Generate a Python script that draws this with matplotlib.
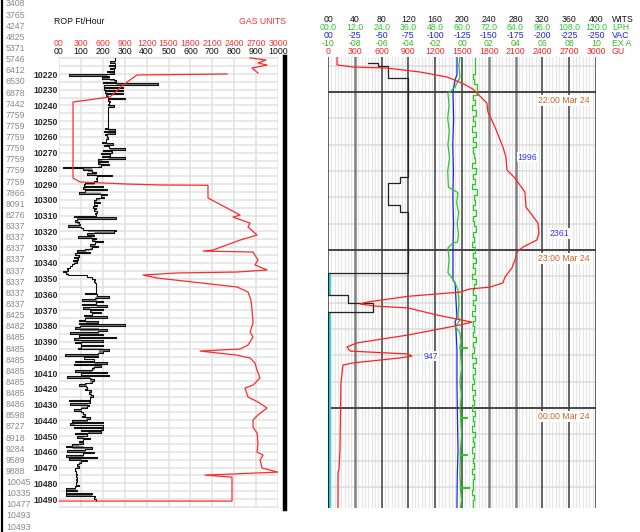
#!/usr/bin/env python3
"""Mud log strip: ROP / gas vs depth (left), time-based WITS / gas tracks (right)."""

import numpy as np
import matplotlib

matplotlib.use("Agg")
import matplotlib.pyplot as plt
from matplotlib.lines import Line2D
from matplotlib.transforms import blended_transform_factory

plt.rcParams["font.family"] = ["Liberation Sans", "DejaVu Sans"]

W, H = 640, 532

# ---------------- left column numbers ----------------
side_counts = [3408, 3765, 4247, 4825, 5371, 5746, 6412, 6530, 6878, 7442,
               7759, 7759, 7759, 7759, 7759, 7759, 7759, 7866, 8091, 8276,
               8337, 8337, 8337, 8337, 8337, 8337, 8337, 8337, 8425, 8482,
               8485, 8485, 8485, 8485, 8485, 8485, 8486, 8598, 8727, 8918,
               9284, 9589, 9888, 10045, 10335, 10477, 10493, 10493]

depth_labels = list(range(10220, 10491, 10))

# ---------------- depth track ----------------
rop_top = 10210  # one value per foot from here
rop_ft_hr = [
    255, 255, 235, 255, 230, 255, 235, 250, 220, 250,   # 10210
    46, 230, 195, 250, 260, 200, 450, 205, 290, 205,    # 10220
    290, 210, 290, 215, 225, 300, 225, 235, 230, 225,   # 10230
    250, 224, 226, 224, 222, 224, 225, 224, 223, 224,   # 10240
    225, 224, 222, 224, 210, 255, 205, 255, 210, 220,   # 10250
    225, 215, 215, 195, 245, 205, 230, 300, 200, 240,   # 10260
    190, 235, 195, 300, 180, 225, 180, 230, 190, 17,    # 10270
    110, 150, 170, 130, 240, 175, 170, 175, 160, 120,   # 10280
    115, 200, 110, 220, 120, 90, 220, 190, 205, 170,    # 10290
    160, 185, 160, 175, 155, 170, 160, 175, 165, 170,   # 10300
    68, 260, 80, 75, 90, 95, 40, 100, 110, 260,         # 10310
    250, 130, 160, 85, 170, 150, 200, 165, 140, 180,    # 10320
    150, 120, 80, 140, 75, 90, 70, 85, 65, 80,          # 10330
    70, 60, 50, 35, 40, 20, 30, 40, 130, 150,           # 10340
    165, 160, 165, 168, 170, 168, 170, 169, 170, 120,   # 10350
    175, 230, 165, 105, 200, 170, 105, 220, 110, 200,   # 10360
    140, 190, 150, 115, 220, 120, 90, 180, 90, 300,     # 10370
    95, 75, 220, 180, 50, 200, 90, 260, 70, 200,        # 10380
    75, 100, 200, 100, 85, 230, 200, 180, 27, 180,      # 10390
    115, 160, 75, 220, 70, 190, 160, 150, 75, 220,      # 10400
    100, 230, 35, 140, 160, 150, 120, 90, 125, 130,     # 10410
    120, 145, 135, 145, 155, 140, 140, 45, 140, 50,     # 10420
    135, 130, 100, 70, 100, 110, 120, 105, 140, 130,    # 10430
    60, 200, 50, 200, 70, 200, 100, 190, 75, 130,       # 10440
    80, 140, 110, 90, 110, 60, 30, 150, 120, 35,        # 10450
    160, 110, 30, 175, 45, 130, 100, 90, 80, 90,        # 10460
    75, 75, 78, 76, 80, 77, 82, 78, 80, 76,             # 10470
    78, 90, 75, 30, 80, 30, 150, 30, 165, 160,          # 10480
    170,                                                # 10490
]

gas_depth = [10209.8, 10211.1, 10213.0, 10214.3, 10216.2, 10219.4, np.nan,
             10220.0, 10220.6, 10227.0, 10234.6, 10237.8, 10286.1, 10288.6,
             10289.9, 10290.5, 10290.6, 10290.7, 10298.8, 10300.1, 10309.6,
             10310.9, 10314.7, 10317.2, 10322.3, 10325.5, 10331.8, 10332.5,
             10333.1, 10338.2, 10341.3, 10344.5, 10345.8, 10346.4, 10347.7,
             10349.6, 10355.3, 10358.5, 10363.6, 10369.9, 10378.2, 10383.9,
             10387.1, 10392.2, 10394.7, 10396.0, 10398.6, 10400.4, 10403.6,
             10408.1, 10413.1, 10417.6, 10419.5, 10425.2, 10428.4, 10432.2,
             10436.6, 10439.8, 10444.3, 10448.1, 10454.4, 10460.2, 10462.1,
             10465.2, 10470.3, 10472.9, 10474.8, 10476.1, 10491.3, 10491.3]
gas_units = [2617, 2836, 2726, 2850, 2644, 2726, np.nan,
             2302, 1069, 877, 699, 192, 192, 288,
             932, 1384, 1754, 2041, 2041, 2096, 2480,
             2384, 2617, 2589, 2713, 2480, 2110, 1973,
             2658, 2726, 2685, 2850, 2439, 1617, 1151,
             1343, 2439, 2589, 2630, 2644, 2658, 2617,
             2658, 2589, 2480, 1932, 2439, 2617, 2685,
             2713, 2754, 2658, 2548, 2589, 2726, 2850,
             2726, 2658, 2658, 2713, 2726, 2713, 2795,
             2754, 2781, 3000, 2000, 2370, 2370, 0]

# ---------------- time track (minutes after 21:00) ----------------
hour_lines = [60, 120, 180]
hour_labels = ["22:00 Mar 24", "23:00 Mar 24", "00:00 Mar 24"]

wits_time = [49.0, 49.0, 50.1, 50.1, 54.7, 54.7, 92.3, 92.3, 94.6, 94.6,
             102.9, 102.9, 105.6, 105.6, 128.7, 128.7, 137.1, 137.1, 140.1,
             140.1, 143.6, 143.6, 218.0]
wits_val = [60, 75, 75, 90, 90, 120, 120, 107, 107, 90,
            90, 107, 107, 120, 120, 0, 0, 30, 30,
            67, 67, 0, 0]

slips_start = [128.7, 143.6]
slips_end = [137.1, 218.0]

vac_time = [46.7, 53.5, 55.4, 60.0, 70, 80, 90, 100, 110, 120, 131.4, 132.5,
            145.5, 147.4, 150.4, 158.0, 170.5, 185, 196.0, 205, 218.0]
vac_val = [-120.3, -120.3, -118.5, -116.6, -117.2, -116.4, -117.0, -116.5,
           -117.1, -116.6, -116.6, -118.5, -120.3, -118.5, -119.4, -120.3,
           -120.3, -120.8, -121.3, -120.6, -120.3]

lph_time = [46.7, 50, 54.3, 58.1, 60, 60.4, 65, 70, 75, 80, 85, 90, 96.1,
            96.5, 98, 98.4, 102, 106, 110, 114, 117, 117.3, 119.2, 124, 128.7,
            130.6, 132.5, 135.2, 140, 145.5, 146.6, 149.3, 150.4, 151.5, 155,
            157.0, 157.2, 157.4, 165, 170, 175, 180, 183.6, 183.8, 184.0, 190,
            197.7, 197.9, 198.1, 205, 210.2, 210.4, 210.6, 215, 218]
lph_val = [59.1, 58.6, 59.1, 56.9, 54.6, 53.7, 54.2, 53.6, 54.3, 53.7, 54.4,
           53.6, 53.9, 54.6, 57.8, 58.2, 57.6, 58.5, 57.8, 58.4, 58.0, 56.0,
           53.7, 54.2, 53.7, 55.5, 56.9, 58.2, 58.6, 58.2, 59.1, 56.9, 58.2,
           59.1, 59.6, 59.0, 62.5, 59.2, 59.8, 59.1, 59.7, 59.2, 59.5, 62.5,
           59.4, 59.8, 59.2, 62.5, 59.3, 59.1, 59.4, 63.5, 59.3, 59.8, 59.3]

exa_start, exa_step = 47, 2
exa_val = [0.97, 0.97, 0.97, 0.82, 0.90, 1.12, 1.10, 0.80, 0.95, 0.78,
           1.05, 0.82, 0.98, 0.76, 1.02, 0.85, 1.08, 0.80, 0.92, 1.00,
           0.78, 1.05, 0.83, 0.95, 0.77, 1.10, 0.86, 0.99, 0.80, 1.04,
           0.79, 0.93, 1.06, 0.82, 0.90, 0.76, 1.00, 0.84, 1.08, 0.80,
           0.95, 0.78, 1.02, 0.88, 0.80, 1.05, 0.83, 0.97, 0.76, 1.00,
           0.85, 0.92, 0.79, 1.06, 0.82, 0.90, 0.77, 1.03, 0.85, 0.95,
           0.80, 0.90, 0.76, 1.00, 0.82, 0.93, 0.78, 0.98, 0.84, 0.90,
           0.77, 0.95, 0.80, 0.88, 0.76, 0.92, 0.81, 0.86, 0.75, 0.90,
           0.80, 0.84, 0.77, 0.88, 0.79, 0.82]

gu_time = [46.7, 49.7, 50.5, 50.9, 52.4, 54.3, 56.6, 58.9, 60.4, 64.2, 67.6,
           73.3, 80.9, 84.7, 89.6, 92.7, 98.0, 103.7, 106.7, 109.8, 113.6,
           116.2, 118.9, 120.8, 123.8, 126.8, 130.3, 132.5, 134.1, 134.8,
           136.0, 137.6, 139.8, 140.5, 141.3, 142.0, 144.7, 147.4, 148.5,
           152.3, 155.3, 156.8, 158.4, 159.5, 160.3, 161.0, 162.9, 163.7,
           170.5, 196.0, 203.6, 204.3, 218.0]
gu_val = [101, 101, 280, 660, 1030, 1332, 1500, 1623, 1667, 1779, 1790,
          1869, 1958, 1992, 2003, 2093, 2204, 2216, 2283, 2350, 2361,
          2339, 2182, 2115, 2093, 2059, 1981, 1958, 1813, 1589,
          1477, 895, 436, 358, 526, 895, 1220, 1611, 1477,
          895, 325, 213, 246, 895, 940, 806, 280, 168,
          145, 134, 123, 112, 112]

gu_peak_time = [84.7, 113.6, 160.3]
gu_peak_val = [1996, 2361, 947]

# ---------------- figure ----------------
fig = plt.figure(figsize=(W / 100, H / 100), dpi=100)


def fx(x):
    return x / W


def fy(y):
    return 1 - y / H


FS = 6.3

# far-left black edge and gray counter column
fig.add_artist(Line2D([fx(1.5), fx(1.5)], [0, 1], color="black", lw=1.6))
for i, v in enumerate(side_counts):
    fig.text(fx(6), fy(4 + i * 11.13), str(v), fontsize=FS, color="#8a8a8a",
             ha="left", va="center")

# ---- left: depth panel ----
axL = fig.add_axes([fx(59), fy(508), fx(219), 451 / H])
axL.set_xlim(0, 1000)
axL.set_ylim(10495.7, 10209.2)
for s in axL.spines.values():
    s.set_visible(False)
axL.set_xticks([])
axL.set_yticks(depth_labels)
axL.set_yticklabels([str(d) for d in depth_labels], fontsize=FS,
                    fontweight="bold", color="#2a2a2a")
axL.tick_params(axis="y", length=0, pad=1)
for x in range(0, 1001, 100):
    axL.axvline(x, color="#e2e2e2", lw=1.1, zorder=0)
for d in range(10210, 10496, 5):
    axL.axhline(d, color="#e2e2e2", lw=1.1, zorder=0)

rop = np.array(rop_ft_hr, dtype=float)
depth = rop_top + np.arange(len(rop))
base = np.array([np.median(rop[max(0, i - 2):i + 3]) for i in range(len(rop))])
xs = np.repeat(rop, 2)
bs = np.repeat(base, 2)
ys = np.column_stack([depth, depth + 1]).ravel()
axL.fill_betweenx(ys, xs, bs, color="#7a7a7a", lw=0, zorder=2)
axL.plot(xs, ys, color="#111111", lw=0.8, zorder=3)

axG = axL.twiny()
axG.set_xlim(0, 3000)
axG.set_axis_off()
axG.plot(gas_units, gas_depth, color="#ff2a2a", lw=0.9, zorder=4)

fig.add_artist(Line2D([fx(285), fx(285)], [fy(57), fy(509)], color="black", lw=3.2))

tr = blended_transform_factory(axL.transData, fig.transFigure)
for v in range(0, 1001, 100):
    axL.text(v, fy(51), "00" if v == 0 else str(v), transform=tr, fontsize=FS,
             ha="center", va="center", color="#111111")
trg = blended_transform_factory(axG.transData, fig.transFigure)
for v in range(0, 3001, 300):
    axG.text(v, fy(43), "00" if v == 0 else str(v), transform=trg, fontsize=FS,
             ha="center", va="center", color="#ff3030")
fig.text(fx(54), fy(21), "ROP Ft/Hour", fontsize=FS, color="#111111",
         ha="left", va="center")
fig.text(fx(239), fy(21), "GAS UNITS", fontsize=FS, color="#ff3030",
         ha="left", va="center")

# ---- right: time panel ----
axR = fig.add_axes([fx(328), fy(508), fx(268), 451 / H])
axR.set_xlim(0, 400)
axR.set_ylim(218.0, 46.7)
for s in axR.spines.values():
    s.set_visible(False)
axR.set_xticks([])
axR.set_yticks([])
for x in np.arange(0, 401, 5):
    if x % 40:
        axR.axvline(x, color="#e6e6e6", lw=0.9, zorder=0)
for t in range(50, 218, 10):
    axR.axhline(t, color="#dedede", lw=1.2, zorder=0)
gray_major = {40, 240, 280}
for x in range(0, 401, 40):
    if x in gray_major:
        axR.axvline(x, color="#808080", lw=1.8, zorder=1)
    else:
        axR.axvline(x, color="#3a3a3a", lw=1.1, zorder=1)
for t in hour_lines:
    axR.axhline(t, color="#3a3a3a", lw=1.3, zorder=1)
for t, lab in zip(hour_lines, hour_labels):
    axR.annotate(lab, (313, t), xytext=(0, -3), textcoords="offset points",
                 fontsize=FS, color="#c8642c", ha="left", va="top", zorder=6,
                 bbox=dict(boxstyle="square,pad=0.1", fc="white", ec="none"))

for a, b in zip(slips_start, slips_end):
    axR.plot([1.6, 1.6], [a, b], color="#22dde6", lw=2.8, zorder=3,
             solid_capstyle="butt")
axR.plot(wits_val, wits_time, color="#222222", lw=0.9, zorder=4)

axVAC = axR.twiny()
axVAC.set_xlim(0, -250)
axVAC.set_axis_off()
axVAC.plot(vac_val, vac_time, color="#2020ee", lw=0.9)

axLPH = axR.twiny()
axLPH.set_xlim(0, 120)
axLPH.set_axis_off()
axLPH.plot(lph_val, lph_time, color="#22cc22", lw=0.9)

axEXA = axR.twiny()
axEXA.set_xlim(-10, 10)
axEXA.set_axis_off()
exa_time = exa_start + exa_step * np.arange(len(exa_val))
ex_x = np.repeat(exa_val, 2)
ex_t = np.column_stack([exa_time, exa_time + exa_step]).ravel()
axEXA.plot(ex_x, ex_t, color="#22cc22", lw=0.9)

axGU = axR.twiny()
axGU.set_xlim(0, 3000)
axGU.set_axis_off()
axGU.plot(gu_val, gu_time, color="#ff2020", lw=0.9)
for t, v in zip(gu_peak_time, gu_peak_val):
    axGU.annotate(str(v), (v, t), xytext=(8, 0), textcoords="offset points",
                  fontsize=FS, color="#3535ff", ha="left", va="center",
                  bbox=dict(boxstyle="square,pad=0.1", fc="white", ec="none"))

# header rows of the time panel
rows = [
    (axR, range(0, 401, 40), lambda v: "00" if v == 0 else str(v), "#111111", 19, "WITS"),
    (axLPH, range(0, 121, 12), lambda v: f"{v:04.1f}" if v else "00.0", "#22cc22", 27, "LPH"),
    (axVAC, range(0, -251, -25), lambda v: "00" if v == 0 else str(v), "#2020ee", 35, "VAC"),
    (axEXA, range(-10, 11, 2), lambda v: f"{v:03d}" if v < 0 else f"{v:02d}", "#33bb22", 43.5, "EX A"),
    (axGU, range(0, 3001, 300), lambda v: str(v), "#ff2020", 52, "GU"),
]
for ax, ticks, fmt, col, ypix, unit in rows:
    trr = blended_transform_factory(ax.transData, fig.transFigure)
    for v in ticks:
        ax.text(v, fy(ypix), fmt(float(v)) if unit == "LPH" else fmt(v),
                transform=trr, fontsize=FS, color=col, ha="center", va="center")
    fig.text(fx(612), fy(ypix), unit, fontsize=FS, color=col, ha="left", va="center")

fig.savefig("out.png", dpi=100)
